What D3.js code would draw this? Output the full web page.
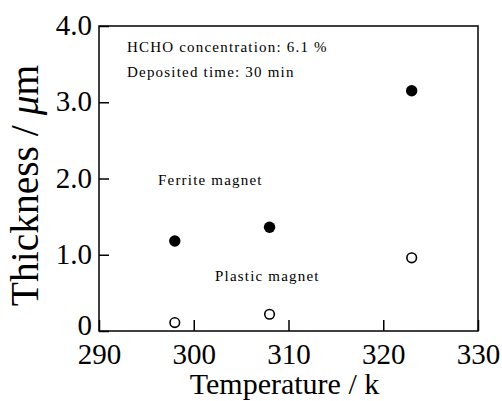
<!DOCTYPE html>
<html>
<head>
<meta charset="utf-8">
<script src="https://cdn.jsdelivr.net/npm/d3@7"></script>
<style>
  body { margin: 0; background: #fff; }
  svg { display: block; font-family: 'Liberation Serif', 'Times New Roman', serif; }
</style>
</head>
<body>
<svg width="502" height="401"></svg>
<script>
// data
const temps = [298, 308, 323]
const ferrite = [1.18, 1.36, 3.15]
const plastic = [0.11, 0.22, 0.96]
const xTicks = [290, 300, 310, 320, 330]
const yTicks = [0, 1, 2, 3, 4]
const notes = ['HCHO concentration: 6.1 %', 'Deposited time: 30 min']

const svg = d3.select('svg')
const margin = { left: 99, right: 24, top: 26, bottom: 70 }
const width = 502, height = 401

const x = d3.scaleLinear().domain([290, 330]).range([margin.left, width - margin.right])
const y = d3.scaleLinear().domain([0, 4]).range([height - margin.bottom, margin.top])

// frame
svg.append('rect')
  .attr('x', x(290)).attr('y', y(4))
  .attr('width', x(330) - x(290)).attr('height', y(0) - y(4))
  .attr('fill', 'none').attr('stroke', '#000').attr('stroke-width', 1.5)

//#region axes
const yAxis = d3.axisLeft(y)
  .tickValues(yTicks)
  .tickSizeInner(-10).tickSizeOuter(0)
  .tickPadding(7)
  .tickFormat(d => d === 0 ? '0' : d3.format('.1f')(d))

const gy = svg.append('g')
  .attr('transform', `translate(${x(290)},0)`)
  .call(yAxis)
  .attr('font-family', null).attr('font-size', null)
gy.select('.domain').remove()
gy.selectAll('line').attr('stroke-width', 1.5)
gy.selectAll('text')
  .attr('font-size', '29px')
  .attr('dy', d => d === 0 ? '0.12em' : '0.3em')

const xAxis = d3.axisBottom(x)
  .tickValues(xTicks)
  .tickSizeInner(-11).tickSizeOuter(0)
  .tickFormat(d3.format('d'))

const gx = svg.append('g')
  .attr('transform', `translate(0,${y(0)})`)
  .call(xAxis)
  .attr('font-family', null).attr('font-size', null)
gx.select('.domain').remove()
gx.selectAll('line').attr('stroke-width', 1.5)
gx.selectAll('text')
  .attr('font-size', '29px')
  .attr('y', 33).attr('dy', null)
//#endregion

// axis titles
svg.append('text')
  .attr('x', (x(290) + x(330)) / 2 - 4)
  .attr('y', 394)
  .attr('text-anchor', 'middle')
  .attr('font-size', '30px')
  .text('Temperature / k')

const yt = svg.append('text')
  .attr('transform', `translate(38,${(y(0) + y(4)) / 2 + 7}) rotate(-90)`)
  .attr('text-anchor', 'middle')
  .attr('font-size', '39.5px')
yt.append('tspan').text('Thickness / ')
yt.append('tspan').attr('font-style', 'italic').text('\u03bc')
yt.append('tspan').text('m')

// points
svg.append('g').selectAll('circle')
  .data(temps.map((t, i) => [t, ferrite[i]]))
  .join('circle')
  .attr('cx', d => x(d[0])).attr('cy', d => y(d[1]))
  .attr('r', 5.7).attr('fill', '#000')

svg.append('g').selectAll('circle')
  .data(temps.map((t, i) => [t, plastic[i]]))
  .join('circle')
  .attr('cx', d => x(d[0])).attr('cy', d => y(d[1]))
  .attr('r', 4.8).attr('fill', '#fff').attr('stroke', '#000').attr('stroke-width', 1.6)

// annotations
svg.append('g').selectAll('text')
  .data(notes)
  .join('text')
  .attr('x', 127)
  .attr('y', (d, i) => 52 + i * 25)
  .attr('font-size', '15px')
  .attr('letter-spacing', '1.2px')
  .text(d => d)

svg.append('text')
  .attr('x', 158).attr('y', 185)
  .attr('font-size', '15px').attr('letter-spacing', '1.2px')
  .text('Ferrite magnet')

svg.append('text')
  .attr('x', 215).attr('y', 281)
  .attr('font-size', '15px').attr('letter-spacing', '1.2px')
  .text('Plastic magnet')
</script>
</body>
</html>
